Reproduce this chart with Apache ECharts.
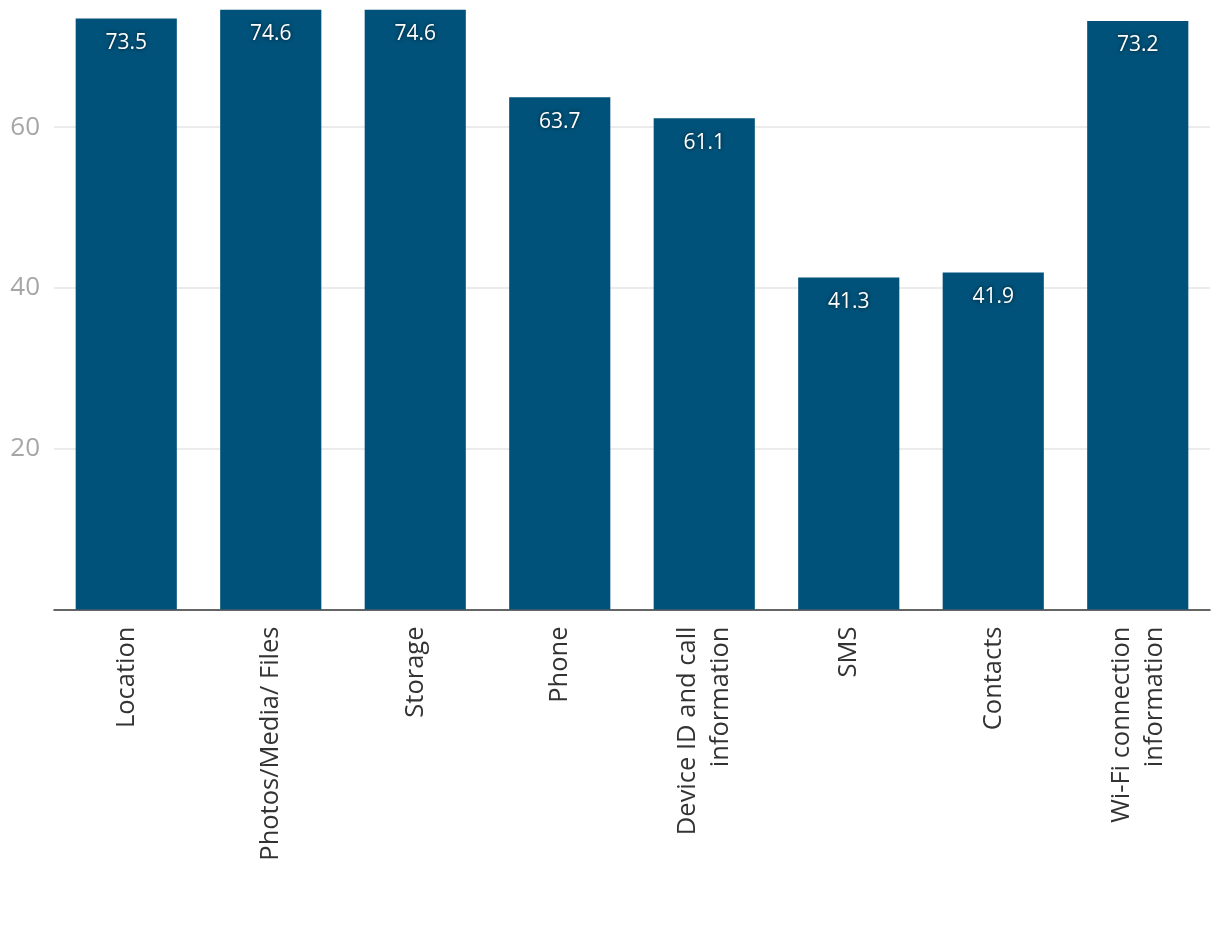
<!DOCTYPE html>
<html>
<head>
<meta charset="utf-8">
<script src="https://cdn.jsdelivr.net/npm/echarts@6/dist/echarts.min.js"></script>
<style>
	html, body { margin: 0; padding: 0; background: #fff; }
	#chart { width: 1220px; height: 942px; }
</style>
</head>
<body>
<div id="chart"></div>
<script>
const categories = [
	'Location',
	'Photos/Media/ Files',
	'Storage',
	'Phone',
	'Device ID and call\ninformation',
	'SMS',
	'Contacts',
	'Wi-Fi connection\ninformation'
];
const values = [73.5, 74.6, 74.6, 63.7, 61.1, 41.3, 41.9, 73.2];
const yTicks = [20, 40, 60];

const font = 'Open Sans';
let chart = echarts.init(document.getElementById('chart'));
const opt = {
	animation: false,
	grid: {
		left: 54,
		right: 10,
		top: 6.5,
		bottom: 332.5
	},
	xAxis: {
		type: 'category',
		data: categories,
		axisLine: {
			lineStyle: { color: '#333', width: 1.5 }
		},
		axisTick: { show: false },
		axisLabel: {
			rotate: 90,
			margin: 17,
			interval: 0,
			color: '#333',
			fontFamily: font,
			fontSize: 25.5,
			lineHeight: 33
		}
	},
	yAxis: {
		type: 'value',
		min: 0,
		max: 75,
		interval: 20,
		axisLine: { show: false },
		axisTick: { show: false },
		splitLine: {
			showMinLine: false,
			showMaxLine: false,
			lineStyle: { color: '#e5e5e5', width: 1.5 }
		},
		axisLabel: {
			margin: 14,
			color: '#a6a6a6',
			fontFamily: font,
			fontSize: 26,
			showMinLabel: false,
			showMaxLabel: false,
			formatter: v => (yTicks.indexOf(v) >= 0 ? String(v) : '')
		}
	},
	series: [
		{
			type: 'bar',
			data: values,
			barCategoryGap: '30%',
			itemStyle: { color: '#00527a' },
			label: {
				show: true,
				position: 'insideTop',
				distance: 14,
				color: '#fff',
				fontFamily: font,
				fontSize: 21,
				textShadowColor: 'rgba(0, 0, 0, 0.7)',
				textShadowBlur: 4,
				formatter: p => p.value.toFixed(1)
			}
		}
	]
};
chart.setOption(opt);
</script>
</body>
</html>
